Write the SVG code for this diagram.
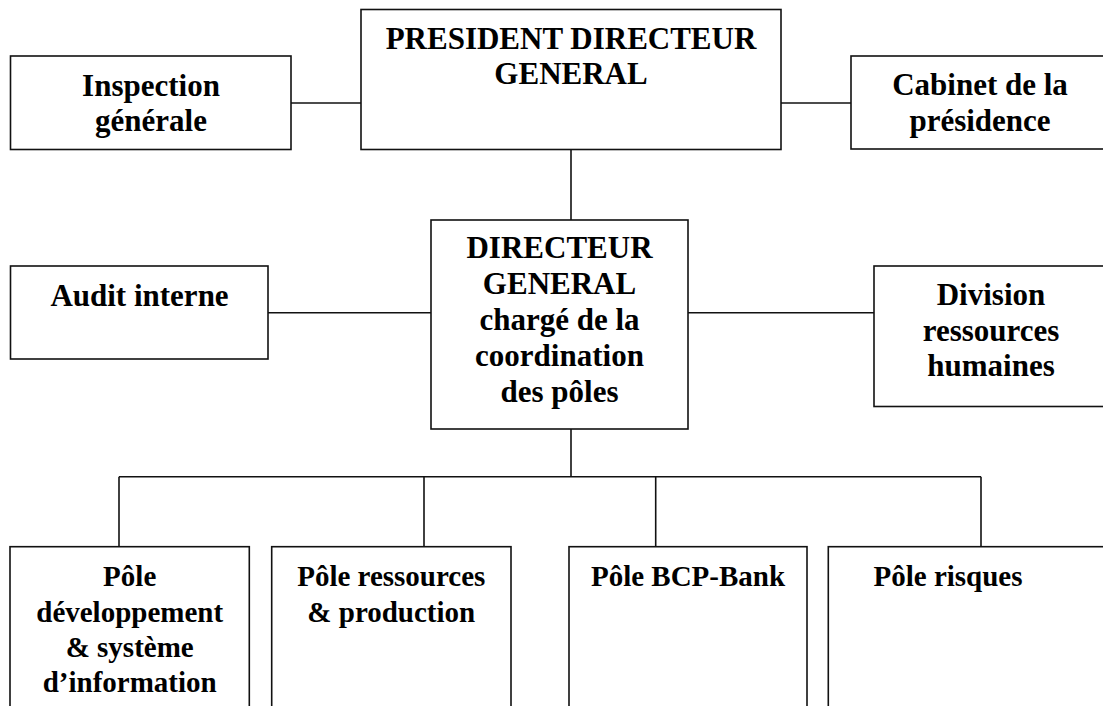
<svg xmlns="http://www.w3.org/2000/svg" width="1103" height="706" viewBox="0 0 1103 706">
  <style>
    .box { fill: #ffffff; stroke: #111111; stroke-width: 1.6; }
    .wire { fill: none; stroke: #111111; stroke-width: 1.6; }
    .lbl { font-family: "Liberation Serif", "Times New Roman", serif; font-weight: bold; font-size: 31px; fill: #000000; text-anchor: middle; }
    .pole { font-size: 29px; }
  </style>
  <rect width="1103" height="706" fill="#ffffff"/>

  <!-- connectors -->
  <g id="connectors">
    <line class="wire" x1="291" y1="103" x2="361" y2="103"/>
    <line class="wire" x1="781" y1="103" x2="851" y2="103"/>
    <line class="wire" x1="571" y1="149.5" x2="571" y2="220"/>
    <line class="wire" x1="268" y1="312.7" x2="431" y2="312.7"/>
    <line class="wire" x1="688" y1="312.7" x2="874" y2="312.7"/>
    <line class="wire" x1="571" y1="429" x2="571" y2="476.7"/>
    <line class="wire" x1="119" y1="476.7" x2="981" y2="476.7"/>
    <line class="wire" x1="119" y1="476.7" x2="119" y2="546.7"/>
    <line class="wire" x1="424" y1="476.7" x2="424" y2="546.7"/>
    <line class="wire" x1="655.7" y1="476.7" x2="655.7" y2="546.7"/>
    <line class="wire" x1="981" y1="476.7" x2="981" y2="546.7"/>
  </g>

  <g id="pdg">
    <rect class="box" x="361" y="9.5" width="420" height="140"/>
    <text class="lbl" x="571" y="49">PRESIDENT DIRECTEUR</text>
    <text class="lbl" x="571" y="84">GENERAL</text>
  </g>

  <g id="inspection">
    <rect class="box" x="10.5" y="56" width="280.5" height="93.5"/>
    <text class="lbl" x="151" y="96">Inspection</text>
    <text class="lbl" x="151" y="131">générale</text>
  </g>

  <g id="cabinet">
    <rect class="box" x="851" y="56" width="262" height="93"/>
    <text class="lbl" x="980" y="95">Cabinet de la</text>
    <text class="lbl" x="980" y="131">présidence</text>
  </g>

  <g id="dg">
    <rect class="box" x="431" y="220" width="257" height="209"/>
    <text class="lbl" x="559.5" y="258">DIRECTEUR</text>
    <text class="lbl" x="559.5" y="294">GENERAL</text>
    <text class="lbl" x="559.5" y="330">chargé de la</text>
    <text class="lbl" x="559.5" y="365.5">coordination</text>
    <text class="lbl" x="559.5" y="401.5">des pôles</text>
  </g>

  <g id="audit">
    <rect class="box" x="10.5" y="266" width="257.5" height="93"/>
    <text class="lbl" x="139.5" y="306">Audit interne</text>
  </g>

  <g id="division-rh">
    <rect class="box" x="874" y="266" width="240" height="140.5"/>
    <text class="lbl" x="991" y="305">Division</text>
    <text class="lbl" x="991" y="340.5">ressources</text>
    <text class="lbl" x="991" y="376">humaines</text>
  </g>

  <g id="pole-dev-si">
    <rect class="box" x="10" y="546.7" width="239.3" height="180"/>
    <text class="lbl pole" x="129.7" y="585.5">Pôle</text>
    <text class="lbl pole" x="129.7" y="621.5">développement</text>
    <text class="lbl pole" x="129.7" y="656.5">&amp; système</text>
    <text class="lbl pole" x="129.7" y="691.5">d’information</text>
  </g>

  <g id="pole-ressources">
    <rect class="box" x="271.7" y="546.7" width="239.3" height="180"/>
    <text class="lbl pole" x="391.3" y="585.5">Pôle ressources</text>
    <text class="lbl pole" x="391.3" y="621.5">&amp; production</text>
  </g>

  <g id="pole-bcp-bank">
    <rect class="box" x="569" y="546.7" width="238" height="180"/>
    <text class="lbl pole" x="688" y="585.5">Pôle BCP-Bank</text>
  </g>

  <g id="pole-risques">
    <rect class="box" x="828.3" y="546.7" width="290" height="180"/>
    <text class="lbl pole" x="948" y="585.5">Pôle risques</text>
  </g>
</svg>
